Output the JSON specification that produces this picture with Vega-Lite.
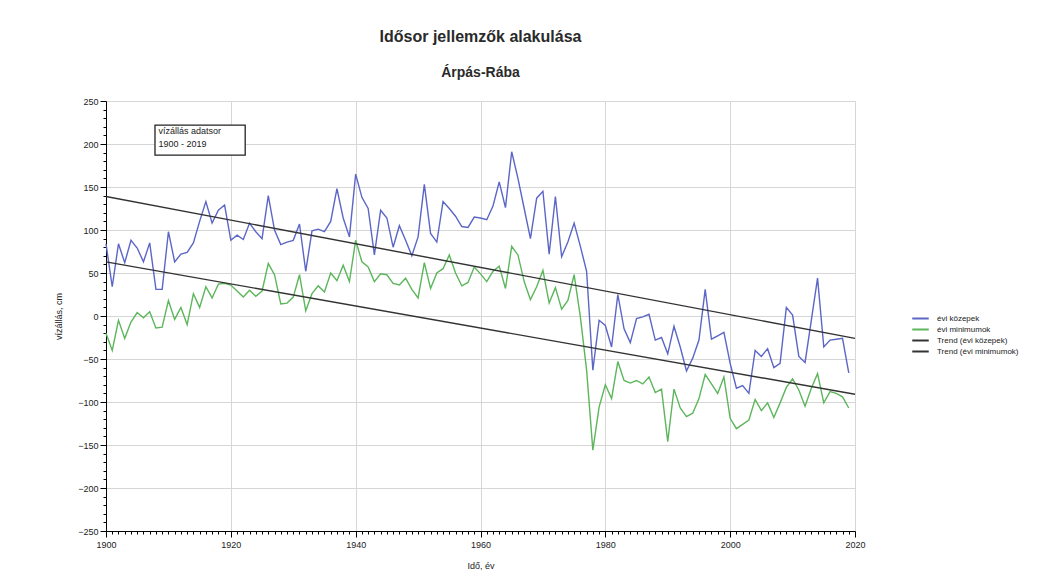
{
  "$schema": "https://vega.github.io/schema/vega-lite/v6.json",
  "width": 749,
  "height": 430,
  "autosize": {"type": "none"},
  "padding": {"left": 106, "top": 101, "right": 198, "bottom": 47},
  "background": "white",
  "title": {
    "text": "Idősor jellemzők alakulása",
    "subtitle": "Árpás-Rába",
    "anchor": "middle",
    "font": "Liberation Sans",
    "fontSize": 16,
    "fontWeight": "bold",
    "color": "#2a2a2a",
    "subtitleFont": "Liberation Sans",
    "subtitleFontSize": 14,
    "subtitleFontWeight": "bold",
    "subtitleColor": "#2a2a2a",
    "subtitlePadding": 21,
    "offset": 17
  },
  "config": {
    "font": "Liberation Sans",
    "view": {"stroke": "#d6d6d6"}
  },
  "datasets": {
    "series": [
      {"series":"évi közepek","year":1900,"value":84},{"series":"évi közepek","year":1901,"value":34},{"series":"évi közepek","year":1902,"value":84},{"series":"évi közepek","year":1903,"value":62},{"series":"évi közepek","year":1904,"value":88},{"series":"évi közepek","year":1905,"value":79},{"series":"évi közepek","year":1906,"value":63},{"series":"évi közepek","year":1907,"value":85},{"series":"évi közepek","year":1908,"value":31},{"series":"évi közepek","year":1909,"value":31},
      {"series":"évi közepek","year":1910,"value":98},{"series":"évi közepek","year":1911,"value":63},{"series":"évi közepek","year":1912,"value":72},{"series":"évi közepek","year":1913,"value":74},{"series":"évi közepek","year":1914,"value":85},{"series":"évi közepek","year":1915,"value":110},{"series":"évi közepek","year":1916,"value":133},{"series":"évi közepek","year":1917,"value":108},{"series":"évi közepek","year":1918,"value":123},{"series":"évi közepek","year":1919,"value":129},
      {"series":"évi közepek","year":1920,"value":88},{"series":"évi közepek","year":1921,"value":94},{"series":"évi közepek","year":1922,"value":89},{"series":"évi közepek","year":1923,"value":108},{"series":"évi közepek","year":1924,"value":98},{"series":"évi közepek","year":1925,"value":90},{"series":"évi közepek","year":1926,"value":140},{"series":"évi közepek","year":1927,"value":100},{"series":"évi közepek","year":1928,"value":83},{"series":"évi közepek","year":1929,"value":86},
      {"series":"évi közepek","year":1930,"value":88},{"series":"évi közepek","year":1931,"value":107},{"series":"évi közepek","year":1932,"value":52},{"series":"évi közepek","year":1933,"value":99},{"series":"évi közepek","year":1934,"value":101},{"series":"évi közepek","year":1935,"value":98},{"series":"évi közepek","year":1936,"value":110},{"series":"évi közepek","year":1937,"value":148},{"series":"évi közepek","year":1938,"value":114},{"series":"évi közepek","year":1939,"value":92},
      {"series":"évi közepek","year":1940,"value":165},{"series":"évi közepek","year":1941,"value":138},{"series":"évi közepek","year":1942,"value":125},{"series":"évi közepek","year":1943,"value":71},{"series":"évi közepek","year":1944,"value":123},{"series":"évi közepek","year":1945,"value":114},{"series":"évi közepek","year":1946,"value":80},{"series":"évi közepek","year":1947,"value":105},{"series":"évi közepek","year":1948,"value":88},{"series":"évi közepek","year":1949,"value":70},
      {"series":"évi közepek","year":1950,"value":92},{"series":"évi közepek","year":1951,"value":153},{"series":"évi közepek","year":1952,"value":96},{"series":"évi közepek","year":1953,"value":86},{"series":"évi közepek","year":1954,"value":133},{"series":"évi közepek","year":1955,"value":125},{"series":"évi közepek","year":1956,"value":116},{"series":"évi közepek","year":1957,"value":104},{"series":"évi közepek","year":1958,"value":103},{"series":"évi közepek","year":1959,"value":115},
      {"series":"évi közepek","year":1960,"value":114},{"series":"évi közepek","year":1961,"value":112},{"series":"évi közepek","year":1962,"value":128},{"series":"évi közepek","year":1963,"value":156},{"series":"évi közepek","year":1964,"value":126},{"series":"évi közepek","year":1965,"value":191},{"series":"évi közepek","year":1966,"value":160},{"series":"évi közepek","year":1967,"value":125},{"series":"évi közepek","year":1968,"value":90},{"series":"évi közepek","year":1969,"value":137},
      {"series":"évi közepek","year":1970,"value":145},{"series":"évi közepek","year":1971,"value":72},{"series":"évi közepek","year":1972,"value":139},{"series":"évi közepek","year":1973,"value":69},{"series":"évi közepek","year":1974,"value":86},{"series":"évi közepek","year":1975,"value":108},{"series":"évi közepek","year":1976,"value":81},{"series":"évi közepek","year":1977,"value":52},{"series":"évi közepek","year":1978,"value":-63},{"series":"évi közepek","year":1979,"value":-5},
      {"series":"évi közepek","year":1980,"value":-11},{"series":"évi közepek","year":1981,"value":-36},{"series":"évi közepek","year":1982,"value":25},{"series":"évi közepek","year":1983,"value":-15},{"series":"évi közepek","year":1984,"value":-31},{"series":"évi közepek","year":1985,"value":-3},{"series":"évi közepek","year":1986,"value":-1},{"series":"évi közepek","year":1987,"value":2},{"series":"évi közepek","year":1988,"value":-28},{"series":"évi közepek","year":1989,"value":-25},
      {"series":"évi közepek","year":1990,"value":-44},{"series":"évi közepek","year":1991,"value":-12},{"series":"évi közepek","year":1992,"value":-36},{"series":"évi közepek","year":1993,"value":-64},{"series":"évi közepek","year":1994,"value":-49},{"series":"évi közepek","year":1995,"value":-28},{"series":"évi közepek","year":1996,"value":31},{"series":"évi közepek","year":1997,"value":-27},{"series":"évi közepek","year":1998,"value":-23},{"series":"évi közepek","year":1999,"value":-19},
      {"series":"évi közepek","year":2000,"value":-55},{"series":"évi közepek","year":2001,"value":-84},{"series":"évi közepek","year":2002,"value":-81},{"series":"évi közepek","year":2003,"value":-90},{"series":"évi közepek","year":2004,"value":-40},{"series":"évi közepek","year":2005,"value":-47},{"series":"évi közepek","year":2006,"value":-38},{"series":"évi közepek","year":2007,"value":-60},{"series":"évi közepek","year":2008,"value":-55},{"series":"évi közepek","year":2009,"value":10},
      {"series":"évi közepek","year":2010,"value":1},{"series":"évi közepek","year":2011,"value":-47},{"series":"évi közepek","year":2012,"value":-54},{"series":"évi közepek","year":2013,"value":-5},{"series":"évi közepek","year":2014,"value":44},{"series":"évi közepek","year":2015,"value":-36},{"series":"évi közepek","year":2016,"value":-28},{"series":"évi közepek","year":2017,"value":-27},{"series":"évi közepek","year":2018,"value":-26},{"series":"évi közepek","year":2019,"value":-66},
      {"series":"évi minimumok","year":1900,"value":-20},{"series":"évi minimumok","year":1901,"value":-40},{"series":"évi minimumok","year":1902,"value":-5},{"series":"évi minimumok","year":1903,"value":-26},{"series":"évi minimumok","year":1904,"value":-7},{"series":"évi minimumok","year":1905,"value":4},{"series":"évi minimumok","year":1906,"value":-2},{"series":"évi minimumok","year":1907,"value":5},{"series":"évi minimumok","year":1908,"value":-14},{"series":"évi minimumok","year":1909,"value":-13},
      {"series":"évi minimumok","year":1910,"value":18},{"series":"évi minimumok","year":1911,"value":-4},{"series":"évi minimumok","year":1912,"value":10},{"series":"évi minimumok","year":1913,"value":-10},{"series":"évi minimumok","year":1914,"value":26},{"series":"évi minimumok","year":1915,"value":10},{"series":"évi minimumok","year":1916,"value":34},{"series":"évi minimumok","year":1917,"value":21},{"series":"évi minimumok","year":1918,"value":37},{"series":"évi minimumok","year":1919,"value":38},
      {"series":"évi minimumok","year":1920,"value":36},{"series":"évi minimumok","year":1921,"value":29},{"series":"évi minimumok","year":1922,"value":22},{"series":"évi minimumok","year":1923,"value":30},{"series":"évi minimumok","year":1924,"value":23},{"series":"évi minimumok","year":1925,"value":29},{"series":"évi minimumok","year":1926,"value":61},{"series":"évi minimumok","year":1927,"value":48},{"series":"évi minimumok","year":1928,"value":14},{"series":"évi minimumok","year":1929,"value":15},
      {"series":"évi minimumok","year":1930,"value":22},{"series":"évi minimumok","year":1931,"value":48},{"series":"évi minimumok","year":1932,"value":6},{"series":"évi minimumok","year":1933,"value":26},{"series":"évi minimumok","year":1934,"value":35},{"series":"évi minimumok","year":1935,"value":28},{"series":"évi minimumok","year":1936,"value":50},{"series":"évi minimumok","year":1937,"value":41},{"series":"évi minimumok","year":1938,"value":59},{"series":"évi minimumok","year":1939,"value":40},
      {"series":"évi minimumok","year":1940,"value":88},{"series":"évi minimumok","year":1941,"value":63},{"series":"évi minimumok","year":1942,"value":57},{"series":"évi minimumok","year":1943,"value":40},{"series":"évi minimumok","year":1944,"value":49},{"series":"évi minimumok","year":1945,"value":48},{"series":"évi minimumok","year":1946,"value":38},{"series":"évi minimumok","year":1947,"value":36},{"series":"évi minimumok","year":1948,"value":44},{"series":"évi minimumok","year":1949,"value":31},
      {"series":"évi minimumok","year":1950,"value":21},{"series":"évi minimumok","year":1951,"value":62},{"series":"évi minimumok","year":1952,"value":32},{"series":"évi minimumok","year":1953,"value":50},{"series":"évi minimumok","year":1954,"value":55},{"series":"évi minimumok","year":1955,"value":71},{"series":"évi minimumok","year":1956,"value":50},{"series":"évi minimumok","year":1957,"value":35},{"series":"évi minimumok","year":1958,"value":39},{"series":"évi minimumok","year":1959,"value":57},
      {"series":"évi minimumok","year":1960,"value":49},{"series":"évi minimumok","year":1961,"value":40},{"series":"évi minimumok","year":1962,"value":52},{"series":"évi minimumok","year":1963,"value":58},{"series":"évi minimumok","year":1964,"value":32},{"series":"évi minimumok","year":1965,"value":81},{"series":"évi minimumok","year":1966,"value":71},{"series":"évi minimumok","year":1967,"value":40},{"series":"évi minimumok","year":1968,"value":19},{"series":"évi minimumok","year":1969,"value":34},
      {"series":"évi minimumok","year":1970,"value":53},{"series":"évi minimumok","year":1971,"value":15},{"series":"évi minimumok","year":1972,"value":33},{"series":"évi minimumok","year":1973,"value":8},{"series":"évi minimumok","year":1974,"value":18},{"series":"évi minimumok","year":1975,"value":48},{"series":"évi minimumok","year":1976,"value":-1},{"series":"évi minimumok","year":1977,"value":-63},{"series":"évi minimumok","year":1978,"value":-156},{"series":"évi minimumok","year":1979,"value":-106},
      {"series":"évi minimumok","year":1980,"value":-80},{"series":"évi minimumok","year":1981,"value":-96},{"series":"évi minimumok","year":1982,"value":-53},{"series":"évi minimumok","year":1983,"value":-75},{"series":"évi minimumok","year":1984,"value":-78},{"series":"évi minimumok","year":1985,"value":-75},{"series":"évi minimumok","year":1986,"value":-79},{"series":"évi minimumok","year":1987,"value":-71},{"series":"évi minimumok","year":1988,"value":-89},{"series":"évi minimumok","year":1989,"value":-85},
      {"series":"évi minimumok","year":1990,"value":-146},{"series":"évi minimumok","year":1991,"value":-85},{"series":"évi minimumok","year":1992,"value":-107},{"series":"évi minimumok","year":1993,"value":-117},{"series":"évi minimumok","year":1994,"value":-113},{"series":"évi minimumok","year":1995,"value":-96},{"series":"évi minimumok","year":1996,"value":-68},{"series":"évi minimumok","year":1997,"value":-79},{"series":"évi minimumok","year":1998,"value":-90},{"series":"évi minimumok","year":1999,"value":-71},
      {"series":"évi minimumok","year":2000,"value":-119},{"series":"évi minimumok","year":2001,"value":-131},{"series":"évi minimumok","year":2002,"value":-126},{"series":"évi minimumok","year":2003,"value":-121},{"series":"évi minimumok","year":2004,"value":-97},{"series":"évi minimumok","year":2005,"value":-110},{"series":"évi minimumok","year":2006,"value":-101},{"series":"évi minimumok","year":2007,"value":-118},{"series":"évi minimumok","year":2008,"value":-101},{"series":"évi minimumok","year":2009,"value":-83},
      {"series":"évi minimumok","year":2010,"value":-73},{"series":"évi minimumok","year":2011,"value":-86},{"series":"évi minimumok","year":2012,"value":-105},{"series":"évi minimumok","year":2013,"value":-84},{"series":"évi minimumok","year":2014,"value":-67},{"series":"évi minimumok","year":2015,"value":-101},{"series":"évi minimumok","year":2016,"value":-88},{"series":"évi minimumok","year":2017,"value":-90},{"series":"évi minimumok","year":2018,"value":-94},{"series":"évi minimumok","year":2019,"value":-107},
      {"series":"Trend (évi közepek)","year":1900,"value":139},{"series":"Trend (évi közepek)","year":2020,"value":-26},
      {"series":"Trend (évi minimumok)","year":1900,"value":63},{"series":"Trend (évi minimumok)","year":2020,"value":-91}
    ],
    "box": [{"x1": 1907.85, "x2": 1922.3, "y1": 222, "y2": 187}],
    "note": [
      {"x": 1908.4, "y": 211.5, "label": "vízállás adatsor"},
      {"x": 1908.4, "y": 196.5, "label": "1900 - 2019"}
    ]
  },
  "layer": [
    {
      "data": {"name": "series"},
      "mark": {"type": "line", "strokeWidth": 1.4},
      "encoding": {
        "x": {
          "field": "year",
          "type": "quantitative",
          "title": "Idő, év",
          "scale": {"domain": [1900, 2020], "nice": false, "zero": false},
          "axis": {
            "values": [1900,1901,1902,1903,1904,1905,1906,1907,1908,1909,1910,1911,1912,1913,1914,1915,1916,1917,1918,1919,1920,1921,1922,1923,1924,1925,1926,1927,1928,1929,1930,1931,1932,1933,1934,1935,1936,1937,1938,1939,1940,1941,1942,1943,1944,1945,1946,1947,1948,1949,1950,1951,1952,1953,1954,1955,1956,1957,1958,1959,1960,1961,1962,1963,1964,1965,1966,1967,1968,1969,1970,1971,1972,1973,1974,1975,1976,1977,1978,1979,1980,1981,1982,1983,1984,1985,1986,1987,1988,1989,1990,1991,1992,1993,1994,1995,1996,1997,1998,1999,2000,2001,2002,2003,2004,2005,2006,2007,2008,2009,2010,2011,2012,2013,2014,2015,2016,2017,2018,2019,2020],
            "tickCount": 1000,
            "format": "d",
            "labelExpr": "datum.value % 20 === 0 ? datum.label : ''",
            "tickSize": {"condition": {"test": "datum.value % 20 === 0", "value": 6}, "value": 3},
            "gridOpacity": {"condition": {"test": "datum.value % 20 === 0", "value": 1}, "value": 0},
            "gridColor": "#d6d6d6",
            "domainColor": "#000000",
            "tickColor": "#000000",
            "labelFontSize": 9,
            "labelColor": "#222222",
            "labelFlush": false,
            "labelPadding": 3,
            "labelOverlap": false,
            "titleFontSize": 9,
            "titleFontWeight": "normal",
            "titleColor": "#222222",
            "titlePadding": 12
          }
        },
        "y": {
          "field": "value",
          "type": "quantitative",
          "title": "vízállás, cm",
          "scale": {"domain": [-250, 250], "nice": false, "zero": false},
          "axis": {
            "values": [-250,-240,-230,-220,-210,-200,-190,-180,-170,-160,-150,-140,-130,-120,-110,-100,-90,-80,-70,-60,-50,-40,-30,-20,-10,0,10,20,30,40,50,60,70,80,90,100,110,120,130,140,150,160,170,180,190,200,210,220,230,240,250],
            "tickCount": 1000,
            "format": "d",
            "labelExpr": "datum.value % 50 === 0 ? datum.label : ''",
            "tickSize": {"condition": {"test": "datum.value % 50 === 0", "value": 6}, "value": 3},
            "gridOpacity": {"condition": {"test": "datum.value % 50 === 0", "value": 1}, "value": 0},
            "gridColor": "#d6d6d6",
            "domainColor": "#000000",
            "tickColor": "#000000",
            "labelFontSize": 9,
            "labelColor": "#222222",
            "labelFlush": false,
            "labelPadding": 2,
            "labelOverlap": false,
            "titleFontSize": 9,
            "titleFontWeight": "normal",
            "titleColor": "#222222",
            "titlePadding": 14
          }
        },
        "color": {
          "field": "series",
          "type": "nominal",
          "scale": {
            "domain": ["évi közepek", "évi minimumok", "Trend (évi közepek)", "Trend (évi minimumok)"],
            "range": ["#5b66c6", "#5cb65c", "#333333", "#333333"]
          },
          "legend": {
            "title": null,
            "orient": "none",
            "legendX": 808,
            "legendY": 211,
            "symbolType": "M-1.5,0H1.5",
            "symbolSize": 121,
            "symbolStrokeWidth": 2,
            "labelFontSize": 8,
            "labelColor": "#222222",
            "labelOffset": 10,
            "rowPadding": 0
          }
        }
      }
    },
    {
      "data": {"name": "box"},
      "mark": {"type": "rect", "fill": "white", "stroke": "#222222", "strokeWidth": 1.3},
      "encoding": {
        "x": {"field": "x1", "type": "quantitative", "title": "Idő, év"},
        "x2": {"field": "x2"},
        "y": {"field": "y1", "type": "quantitative", "title": "vízállás, cm"},
        "y2": {"field": "y2"}
      }
    },
    {
      "data": {"name": "note"},
      "mark": {"type": "text", "align": "left", "baseline": "alphabetic", "fontSize": 9, "color": "#222222"},
      "encoding": {
        "x": {"field": "x", "type": "quantitative", "title": "Idő, év"},
        "y": {"field": "y", "type": "quantitative", "title": "vízállás, cm"},
        "text": {"field": "label"}
      }
    }
  ]
}
